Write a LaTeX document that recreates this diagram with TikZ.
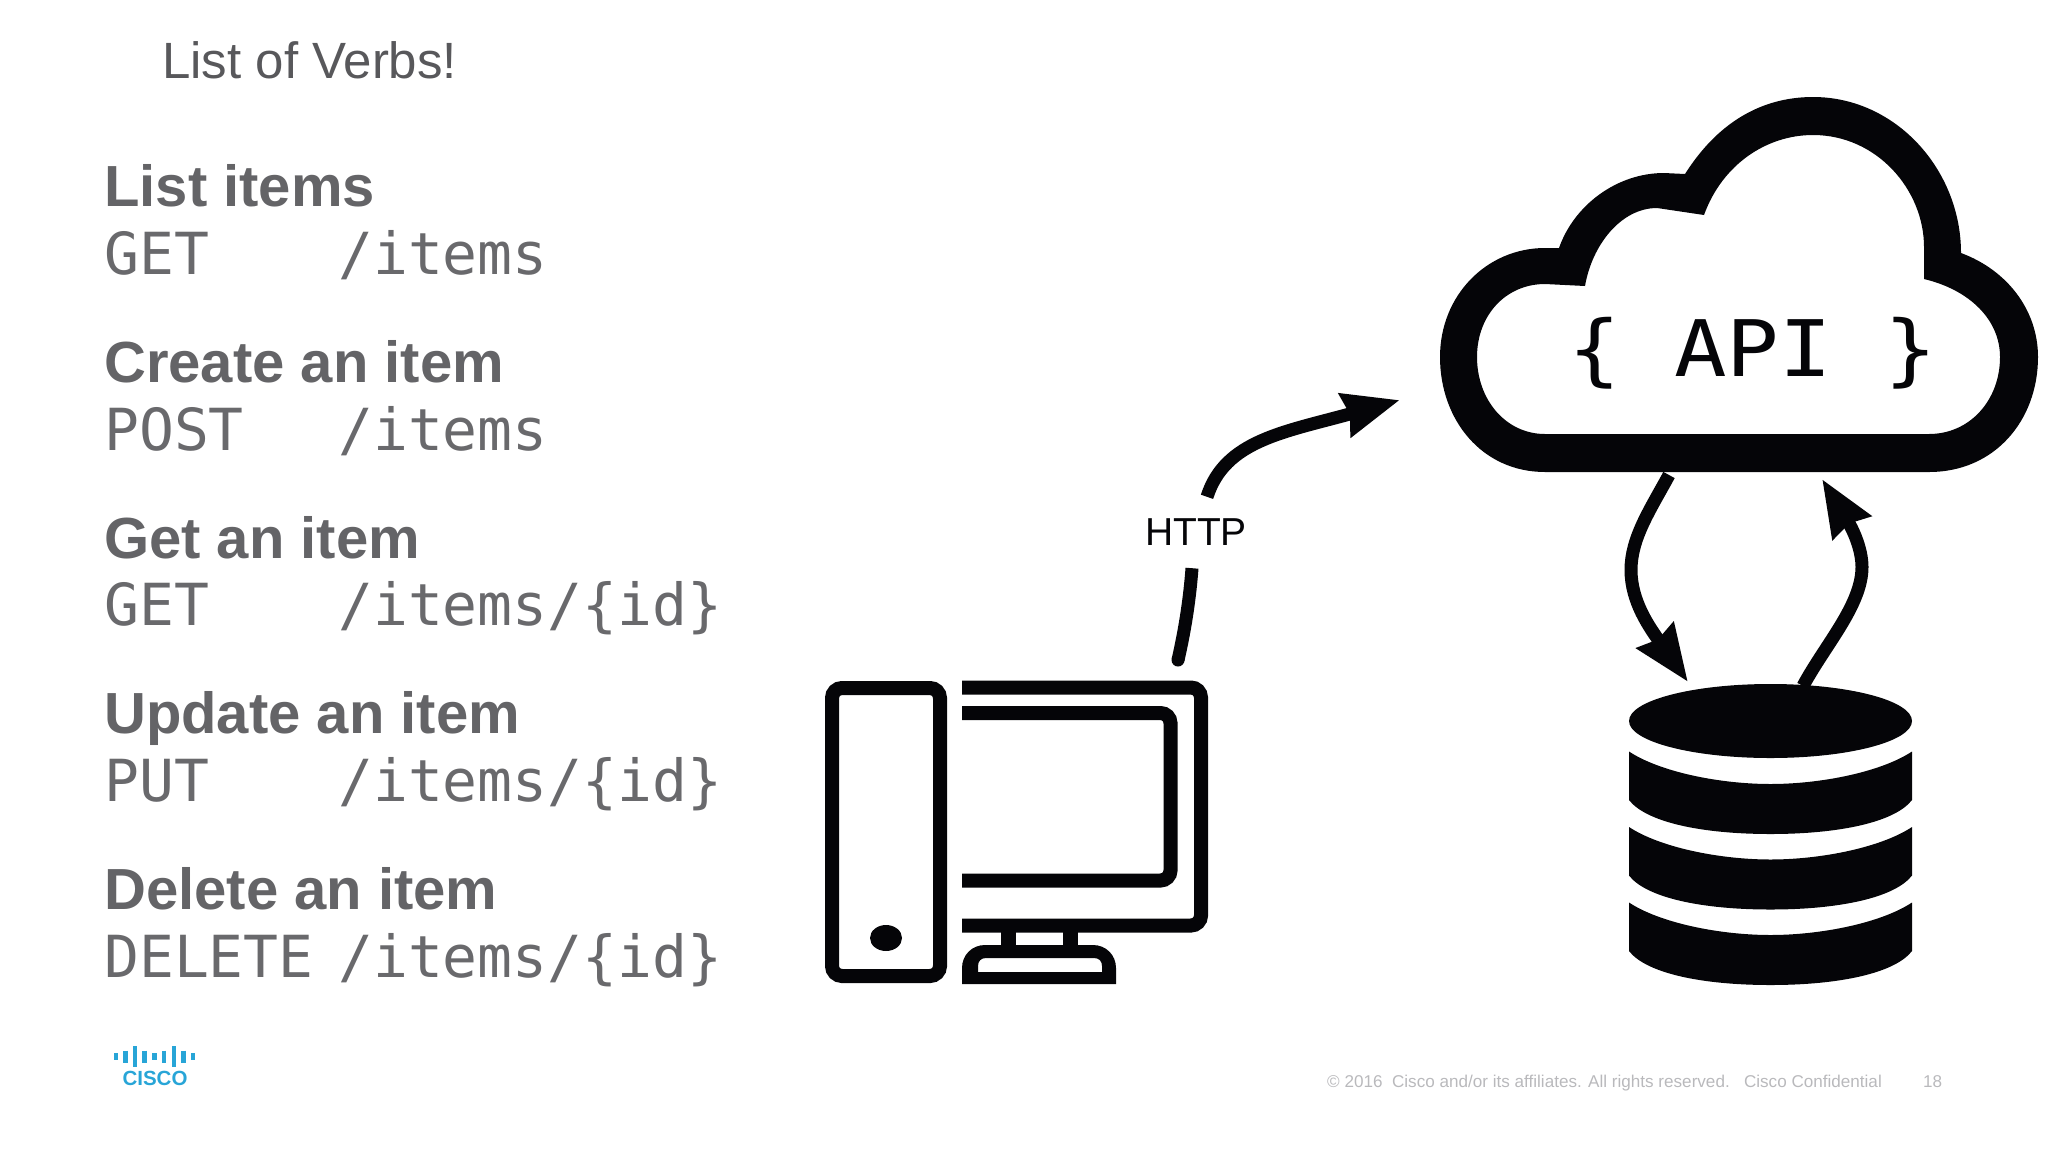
\documentclass[tikz,border=0pt]{standalone}
\usepackage{xcolor}
\usepackage{fontspec}
\usepackage{tikz}
\usetikzlibrary{arrows.meta}
\setmainfont{Liberation Sans}
\newfontfamily\codefont{DejaVu Sans Mono}
\newfontfamily\apifont[FakeStretch=1.12]{DejaVu Sans Mono}
\definecolor{slidegray}{RGB}{88,88,91}
\definecolor{headgray}{RGB}{100,100,103}
\definecolor{codegray}{RGB}{105,105,108}
\definecolor{footgray}{RGB}{185,185,188}
\definecolor{ciscoblue}{RGB}{40,165,215}
\definecolor{iconblack}{RGB}{5,5,8}
\tikzset{
    heading/.style={anchor=base west,inner sep=0pt,text=headgray,font=\fontsize{58}{58}\selectfont\bfseries},
    verb/.style={anchor=base west,inner sep=0pt,text=codegray,font=\fontsize{58}{58}\codefont},
    route/.style={verb},
    footnote/.style={anchor=base west,inner sep=0pt,text=footgray,font=\fontsize{17.1}{18}\selectfont},
    icon/.style={draw=iconblack,line width=14pt,rounded corners=10pt},
    wire/.style={draw=iconblack,line width=13pt},
    wirehead/.style={-{Stealth[length=56pt,width=43pt,inset=4pt]}},
    logobar/.style={draw=ciscoblue,line width=4.5pt}
}

\begin{document}
\begin{tikzpicture}[x=1pt,y=-1pt]
    \useasboundingbox (0,0) rectangle (2048,1152);

    % title
    \node[anchor=base west,inner sep=0pt,text=slidegray,font=\fontsize{51}{51}\selectfont] (title) at (162,78) {List of Verbs!};

    % list of verbs
    \node[heading] (listhead) at (104,206) {List items};
    \node[verb] (listverb) at (104,274) {GET};
    \node[route] (listroute) at (338,274) {/items};
    \node[heading] (createhead) at (104,382) {Create an item};
    \node[verb] (createverb) at (104,450) {POST};
    \node[route] (createroute) at (338,450) {/items};
    \node[heading] (gethead) at (104,558) {Get an item};
    \node[verb] (getverb) at (104,625) {GET};
    \node[route] (getroute) at (338,625) {/items/\{id\}};
    \node[heading] (updatehead) at (104,733) {Update an item};
    \node[verb] (updateverb) at (104,801) {PUT};
    \node[route] (updateroute) at (338,801) {/items/\{id\}};
    \node[heading] (deletehead) at (104,909) {Delete an item};
    \node[verb] (deleteverb) at (104,977) {DELETE};
    \node[route] (deleteroute) at (338,977) {/items/\{id\}};

    % computer
    \draw[icon] (832,688) rectangle (940,976);
    \fill[iconblack] (886,938) ellipse (16 and 13);
    \draw[icon] (962,687.5) -- (1201,687.5) -- (1201,925.5) -- (962,925.5);
    \draw[icon] (962,713) -- (1170.5,713) -- (1170.5,880.5) -- (962,880.5);
    \draw[icon,line width=15pt,rounded corners=0pt] (1008.5,930) -- (1008.5,948) (1070.5,930) -- (1070.5,948);
    \fill[iconblack,even odd rule] (962,984) -- (962,968) .. controls (962,955) and (972,945) .. (985,945)
        -- (1093,945) .. controls (1106,945) and (1116,955) .. (1116,968) -- (1116,984) -- cycle
        (978,972) -- (978,966) .. controls (978,961) and (981,958) .. (986,958)
        -- (1094,958) .. controls (1099,958) and (1102,961) .. (1102,966) -- (1102,972) -- cycle;

    % cloud
    \fill[iconblack,even odd rule] (1545,472) .. controls (1482,472) and (1440,420) .. (1440,357)
        .. controls (1440,295) and (1487,248) .. (1545,248) -- (1559,248)
        .. controls (1574,205) and (1617,173) .. (1664,173) -- (1685,174)
        .. controls (1716,125) and (1759,97) .. (1813,97)
        .. controls (1896,97) and (1961,170) .. (1961,253)
        .. controls (2007,270) and (2038,310) .. (2038,357)
        .. controls (2038,420) and (1995,472) .. (1929,472) -- cycle
        (1545,434) .. controls (1506,434) and (1477,400) .. (1477,357)
        .. controls (1477,315) and (1506,284) .. (1545,284) -- (1585,286)
        .. controls (1592,245) and (1621,208) .. (1657,208) -- (1704,215)
        .. controls (1722,165) and (1766,135) .. (1813,135)
        .. controls (1877,135) and (1924,190) .. (1924,247) -- (1924,279)
        .. controls (1970,290) and (2000,320) .. (2000,357)
        .. controls (2000,400) and (1970,434) .. (1929,434) -- cycle;
    \node[anchor=base,inner sep=0pt,text=iconblack,font=\fontsize{78}{78}\apifont] (api) at (1753,376) {\{ API \}};

    % database
    \fill[iconblack] (1770.5,721) ellipse (141.5 and 37);
    \foreach \dbshift in {0,75.5,151} {
        \fill[iconblack,shift={(0,\dbshift)}] (1629,751.5) .. controls (1660,772) and (1720,784) .. (1770.5,784)
            .. controls (1821,784) and (1881,772) .. (1912,751.5) -- (1912,800)
            .. controls (1895,822) and (1840,834) .. (1770.5,834)
            .. controls (1701,834) and (1646,822) .. (1629,800) -- cycle;
    }

    % connectors
    \coordinate (pcout) at (1178,660);
    \coordinate (apiin) at (1400,400);
    \coordinate (apiout) at (1669,475);
    \coordinate (dbin) at (1688,682);
    \coordinate (dbout) at (1803,686);
    \coordinate (apiback) at (1822,479);
    \node[inner sep=0pt,minimum height=71pt,text=iconblack,font=\fontsize{39}{39}\selectfont] (http) at (1196,532.5) {HTTP};
    \fill[iconblack] (pcout) circle (6.5);
    \draw[wire] (pcout) .. controls (1186,625) and (1190,595) .. ([xshift=-4pt]http.south);
    \draw[wire,wirehead] ([xshift=11pt]http.north) .. controls (1225,440) and (1285,432) .. (apiin);
    \draw[wire,wirehead] (apiout) .. controls (1650,510) and (1631,538) .. (1631,570)
        .. controls (1631,602) and (1650,628) .. (dbin);
    \draw[wire,wirehead] (dbout) .. controls (1825,645) and (1862,605) .. (1862,567)
        .. controls (1862,548) and (1852,528) .. (apiback);

    % logo
    \foreach \barx/\barh in {116/3.5,125.5/6,135/10.5,144.5/6,154.5/3.5,164/6,174/10.5,183.5/6,193/3.5} {
        \draw[logobar] (\barx,1056.5-\barh) -- (\barx,1056.5+\barh);
    }
    \node[anchor=base,inner sep=0pt,text=ciscoblue,font=\fontsize{20.5}{20.5}\selectfont\bfseries] (cisco) at (155,1085) {CISCO};

    % footer
    \node[footnote] (copyright) at (1327,1087) {© 2016\ \ Cisco and/or its affiliates. All rights reserved.\ \ \ Cisco Confidential};
    \node[footnote] (pagenum) at (1923,1087) {18};
\end{tikzpicture}
\end{document}
